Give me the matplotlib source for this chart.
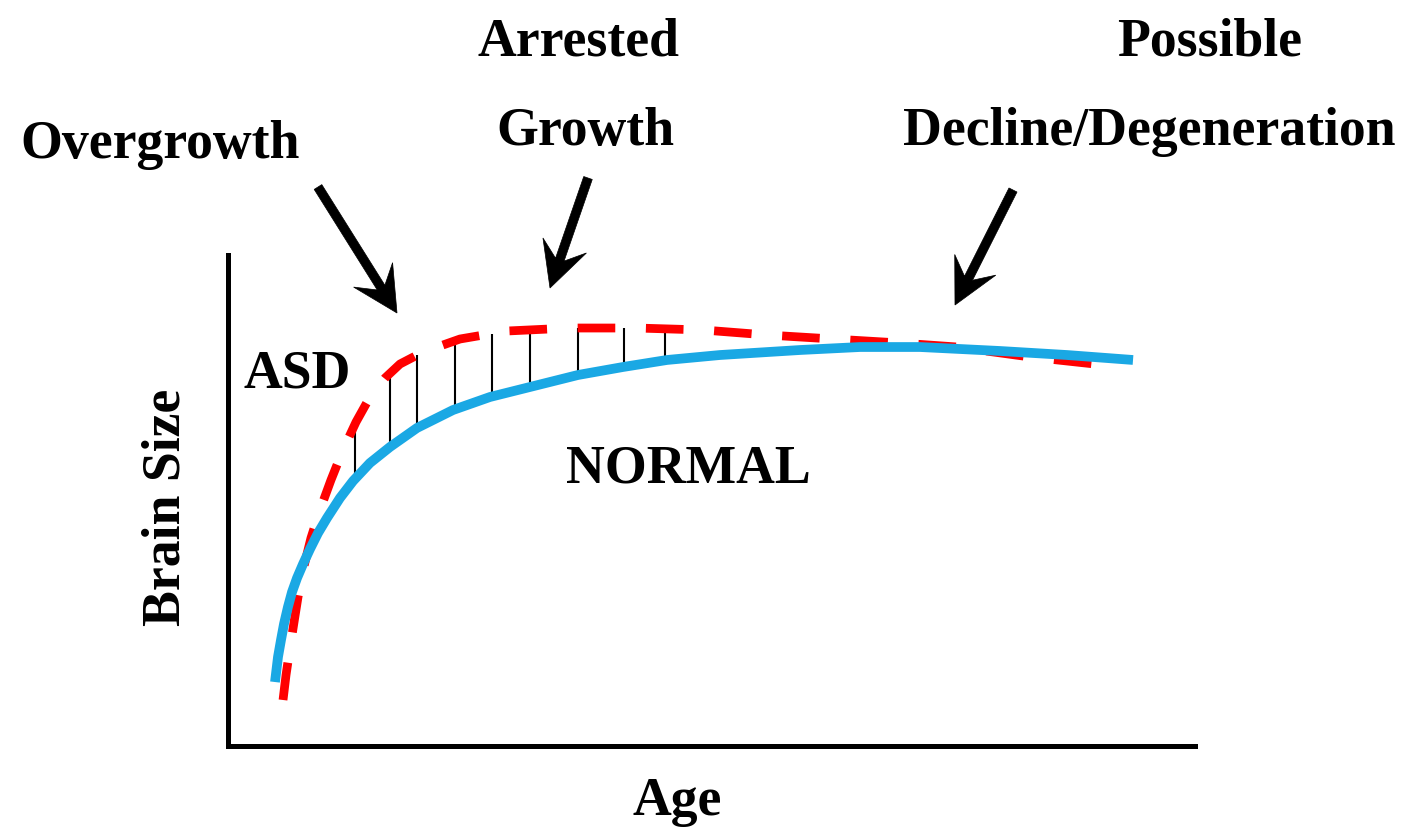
import numpy as np
import matplotlib
matplotlib.use("Agg")
import matplotlib.pyplot as plt
from matplotlib.patches import Polygon

# ---------------- data (arbitrary units) ----------------
normal_age = [4.86, 5.17, 5.48, 5.79, 6.20, 6.62, 7.14, 7.76, 8.48, 9.31, 10.24,
              11.58, 12.93, 14.68, 16.75, 19.54, 23.27, 27.09, 31.23, 36.19, 40.85,
              45.40, 50.88, 59.15, 65.36, 71.56, 79.83, 86.76, 93.59]
normal_size = [13.03, 18.13, 21.59, 24.85, 28.31, 31.36, 34.22, 37.07, 40.12, 43.38, 46.44,
               50.51, 53.97, 57.64, 60.90, 64.77, 68.43, 71.08, 73.12, 75.56, 77.19,
               78.62, 79.63, 80.65, 81.26, 81.26, 80.45, 79.63, 78.62]

asd_age = [5.69, 6.00, 6.41, 6.83, 7.24, 7.76, 8.58, 9.51, 10.65, 11.89, 13.24,
           14.68, 16.24, 17.79, 20.17, 23.99, 28.85, 35.37, 42.30, 49.12, 55.74,
           62.56, 69.49, 75.39, 82.94, 91.52]
asd_size = [9.37, 14.46, 19.96, 25.25, 30.35, 35.85, 42.36, 48.07, 54.18, 60.29, 65.99,
            71.08, 74.95, 77.80, 80.24, 82.89, 84.52, 85.13, 85.13, 84.73, 83.71,
            82.89, 82.08, 81.26, 79.23, 77.39]

hatch_age = [13.1, 16.8, 19.5, 23.5, 27.3, 31.2, 36.2, 40.9, 45.2]

x_label = "Age"
y_label = "Brain Size"
curve_labels = ["ASD", "NORMAL"]
phase_labels = ["Overgrowth", "Arrested\nGrowth", "Possible\nDecline/Degeneration"]

# ---------------- figure ----------------
W, H = 1402, 832
fig = plt.figure(figsize=(W / 100, H / 100), dpi=100)
fig.patch.set_facecolor("white")

def fx(px):
    return px / W

def fy(py):
    return 1 - py / H

ax = fig.add_axes([fx(228), fy(746), fx(1195) - fx(228), fy(255) - fy(746)])
ax.set_xlim(0, 100)
ax.set_ylim(0, 100)
ax.set_xticks([])
ax.set_yticks([])
for s in ["top", "right"]:
    ax.spines[s].set_visible(False)
for s in ["left", "bottom"]:
    ax.spines[s].set_linewidth(3.6)
    ax.spines[s].set_capstyle("projecting")
    ax.spines[s].set_color("black")

RED = "#ff0000"
BLUE = "#1aa8e4"

# hatch lines between the curves
h_top = np.interp(hatch_age, asd_age, asd_size)
h_bot = np.interp(hatch_age, normal_age, normal_size)
ax.vlines(hatch_age, h_bot, h_top, colors="black", linewidth=1.5, zorder=1)

ax.plot(asd_age, asd_size, color=RED, linewidth=6.3, linestyle=(0, (4.3, 3.5)),
        dash_capstyle="butt", dash_joinstyle="round", zorder=2)
ax.plot(normal_age, normal_size, color=BLUE, linewidth=7.0,
        solid_capstyle="butt", solid_joinstyle="round", zorder=3)

font = dict(family=["Liberation Serif", "DejaVu Serif"], fontweight="bold",
            fontsize=38.7, color="black")

# text labels (figure pixel positions: center x, baseline y)
fig.text(fx(160), fy(158), phase_labels[0], ha="center", va="baseline", **font)
arr_lines = phase_labels[1].split("\n")
fig.text(fx(579), fy(55), arr_lines[0], ha="center", va="baseline", **font)
fig.text(fx(585), fy(145), arr_lines[1], ha="center", va="baseline", **font)
pos_lines = phase_labels[2].split("\n")
fig.text(fx(1210), fy(55), pos_lines[0], ha="center", va="baseline", **font)
fig.text(fx(1149), fy(145), pos_lines[1], ha="center", va="baseline", **font)

fig.text(fx(297), fy(388), curve_labels[0], ha="center", va="baseline", **font)
fig.text(fx(688), fy(482), curve_labels[1], ha="center", va="baseline", **font)
fig.text(fx(677), fy(815), x_label, ha="center", va="baseline", **font)
fig.text(fx(180), fy(507), y_label, ha="center", va="baseline", rotation=90,
         rotation_mode="anchor", **font)

# barbed arrows
def barbed_arrow(tail, tip, shaft=4.5, head_len=45, head_half=23, notch=30):
    t = np.array(tail, float)
    p = np.array(tip, float)
    u = (p - t) / np.linalg.norm(p - t)
    n = np.array([-u[1], u[0]])
    j = p - notch * u
    b = p - head_len * u
    pts = [t + shaft * n, j + shaft * n, b + head_half * n, p,
           b - head_half * n, j - shaft * n, t - shaft * n]
    pts = [(fx(q[0]), fy(q[1])) for q in pts]
    fig.patches.append(Polygon(pts, closed=True, facecolor="black",
                               edgecolor="black", linewidth=0.5,
                               transform=fig.transFigure, figure=fig))

barbed_arrow((318, 187), (397, 313))
barbed_arrow((588, 178), (550, 288))
barbed_arrow((1013, 190), (955, 305))

fig.savefig("out.png", dpi=100, facecolor="white")
